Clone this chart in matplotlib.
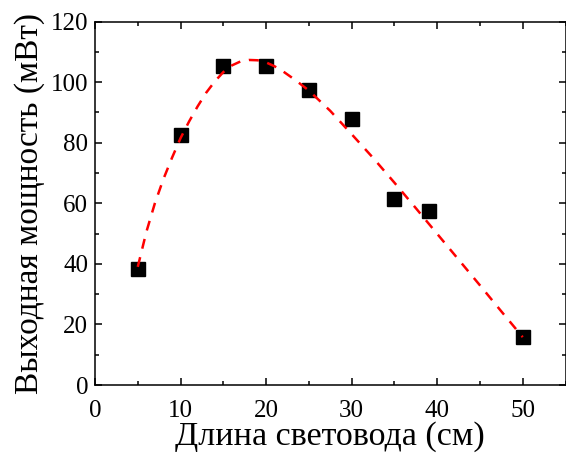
import matplotlib
matplotlib.use("Agg")
import matplotlib.pyplot as plt
from matplotlib.ticker import MultipleLocator

plt.rcParams["font.family"] = ["Liberation Serif", "DejaVu Serif"]

# measured points
length_cm = [5, 10, 15, 20, 25, 30, 35, 39, 50]
power_mw = [38.2, 82.4, 105.2, 105.2, 97.3, 87.7, 61.3, 57.4, 15.8]

# fitted curve
fit_x = [5, 6, 7, 8, 9, 10, 11, 12, 13, 14, 15, 16, 17, 18, 19, 20, 21, 22, 23,
         24, 25, 27.5, 30, 32.5, 35, 37.5, 40, 42.5, 45, 47.5, 50]
fit_y = [39.0, 50.5, 60.0, 68.0, 75.0, 81.5, 87.0, 92.0, 96.5, 100.2, 103.3,
         105.5, 106.8, 107.3, 107.2, 106.5, 105.2, 103.5, 101.5, 99.4, 97.2,
         90.5, 82.8, 75.0, 66.8, 58.4, 49.9, 41.4, 32.9, 24.3, 15.8]

fig = plt.figure(figsize=(5.66, 4.54), dpi=100)
ax = fig.add_axes([95 / 566, 1 - 385 / 454, 470.5 / 566, 363.5 / 454])

ax.plot(length_cm, power_mw, ls="none", marker="s", ms=10, color="black", zorder=2)
ax.plot(fit_x, fit_y, color="red", ls=(0, (4, 3.5)), lw=1.8, zorder=3)

ax.set_xlim(0, 55)
ax.set_ylim(0, 120)
ax.xaxis.set_major_locator(MultipleLocator(10))
ax.xaxis.set_minor_locator(MultipleLocator(5))
ax.yaxis.set_major_locator(MultipleLocator(20))
ax.yaxis.set_minor_locator(MultipleLocator(10))
ax.set_xticks([0, 10, 20, 30, 40, 50])
ax.tick_params(which="both", direction="in", top=True, right=True, width=1.1,
               labelsize=18, pad=5)
ax.tick_params(axis="x", which="major", pad=10.5)
ax.tick_params(which="major", length=5)
ax.tick_params(which="minor", length=3)
for s in ax.spines.values():
    s.set_linewidth(1.1)

ax.set_xlabel("Длина световода (см)", fontsize=24.5, labelpad=0)
ax.set_ylabel("Выходная мощность (мВт)", fontsize=24, labelpad=4)

fig.savefig("out.png", dpi=100)
plt.close(fig)
